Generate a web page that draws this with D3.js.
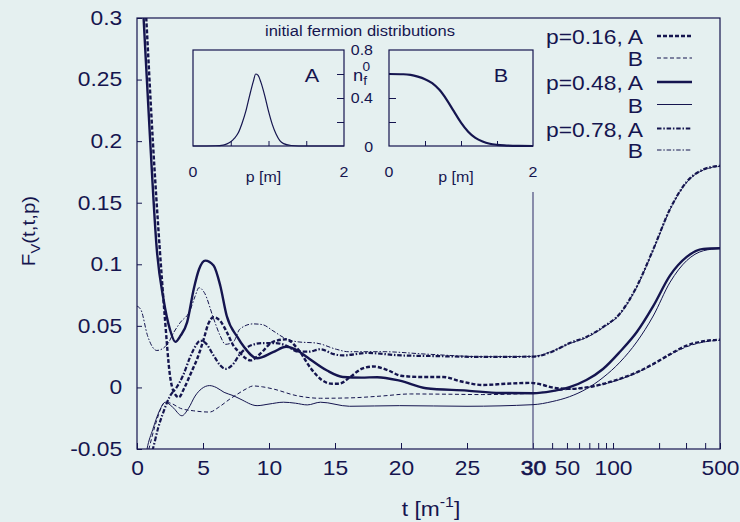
<!DOCTYPE html>
<html><head><meta charset="utf-8">
<script src="https://cdn.jsdelivr.net/npm/d3@7"></script>
<style>html,body{margin:0;padding:0;background:#e5f0f0;}svg{display:block;}</style>
</head><body><svg id="chart" width="740" height="522"></svg>
<script>
// ---------- data ----------
const linTicks = [0, 5, 10, 15, 20, 25, 30];
const logTicks = [40, 50, 60, 70, 80, 90, 100, 200, 300, 400, 500];
const logTickLabels = [50, 100, 500];
const yTicks = [-0.05, 0, 0.05, 0.1, 0.15, 0.2, 0.25, 0.3];
const yTickLabels = ["-0.05", "0", "0.05", "0.1", "0.15", "0.2", "0.25", "0.3"];

const legendLabels = ["p=0.16, A", "B", "p=0.48, A", "B", "p=0.78, A", "B"];

// p=0.16, distribution A  (thick dashed)
const p016A = [[0,0.5],[0.4,0.36],[0.7,0.30],[1.2,0.20],[1.72,0.113],[2.1,0.058],[2.5,0.0096],[2.8,-0.004],[3.16,-0.008],[3.6,0.0],[4.1,0.012],[4.55,0.023],[5.05,0.039],[5.4,0.0516],[5.8,0.057],[6.3,0.054],[6.8,0.045],[7.3,0.034],[7.8,0.028],[8.6,0.022],[9.3,0.027],[10.3,0.037],[11.3,0.039],[12.2,0.031],[13.2,0.015],[14.0,0.006],[14.8,0.003],[15.3,0.003],[16.1,0.008],[17.0,0.015],[17.9,0.017],[19,0.014],[20,0.0095],[21.5,0.0085],[23.2,0.0085],[24.5,0.005],[26.2,0.002],[28,0.003],[29.8,0.0037],[35,0.002],[40,0.0],[52,-0.0012],[67,0.0],[86,0.0028],[111,0.007],[143,0.0123],[183,0.019],[236,0.027],[303,0.034],[389,0.0375],[500,0.0388]];
// p=0.16, distribution B  (thin dashed)
const p016B = [[0,-0.15],[0.65,-0.06],[0.9,-0.05],[1.4,-0.03],[2.15,-0.012],[2.6,-0.013],[3.3,-0.017],[4.3,-0.019],[5.5,-0.020],[6.2,-0.016],[7.05,-0.0093],[7.6,-0.0055],[8.3,-0.001],[8.8,0.0012],[9.5,0.0005],[10.3,-0.0012],[12.1,-0.0067],[13.9,-0.0088],[16.1,-0.0085],[18.5,-0.007],[20.7,-0.0053],[23.5,-0.0055],[26.2,-0.0058],[30,-0.0047],[40,-0.003],[52,-0.0015],[67,0.0],[86,0.0025],[111,0.0065],[143,0.012],[183,0.0185],[236,0.0265],[303,0.033],[389,0.0368],[500,0.0383]];
// p=0.48, distribution A  (thick solid)
const p048A = [[0,0.42],[0.3,0.34],[0.5,0.30],[1.0,0.20],[1.5,0.112],[2.0,0.072],[2.5,0.047],[2.9,0.037],[3.3,0.042],[3.8,0.053],[4.3,0.08],[4.7,0.096],[5.17,0.103],[5.8,0.099],[6.3,0.083],[6.8,0.058],[7.6,0.041],[8.1,0.033],[9.1,0.0237],[10.3,0.0286],[11.3,0.033],[12.3,0.029],[12.9,0.0245],[14.4,0.0137],[15.6,0.0085],[17,0.008],[18.2,0.0083],[19.9,0.0055],[21.9,-0.0007],[25,-0.0026],[27.5,-0.0045],[30,-0.0047],[40,-0.003],[52,0.0002],[67,0.006],[86,0.015],[111,0.029],[143,0.045],[183,0.066],[236,0.091],[303,0.106],[389,0.1125],[500,0.113]];
// p=0.48, distribution B  (thin solid)
const p048B = [[0,-0.15],[0.6,-0.06],[0.76,-0.05],[1.2,-0.034],[1.7,-0.019],[2.15,-0.012],[2.7,-0.016],[3.4,-0.023],[3.9,-0.017],[4.4,-0.007],[4.9,-0.001],[5.5,0.0015],[6.0,0.0],[6.6,-0.004],[7.3,-0.0067],[7.8,-0.0093],[9.1,-0.0148],[10.0,-0.0135],[11.1,-0.012],[12.0,-0.0128],[12.9,-0.0142],[13.9,-0.012],[16.1,-0.0153],[19.9,-0.0148],[25,-0.0153],[30,-0.014],[40,-0.0115],[52,-0.0075],[67,-0.0012],[86,0.008],[111,0.0205],[143,0.037],[183,0.058],[236,0.0855],[303,0.103],[389,0.111],[500,0.1128]];
// p=0.78, distribution A  (thick dash-dot)
const p078A = [[0,-0.12],[0.9,-0.06],[1.2,-0.05],[1.6,-0.033],[2.0,-0.02],[2.5,-0.007],[3.0,0.0],[3.5,0.01],[4.0,0.024],[4.3,0.031],[4.8,0.038],[5.2,0.036],[5.8,0.026],[6.3,0.018],[6.7,0.015],[7.2,0.018],[7.8,0.027],[8.6,0.034],[9.5,0.036],[10.5,0.036],[11.3,0.034],[12.2,0.029],[13.0,0.029],[13.9,0.031],[14.9,0.027],[15.6,0.026],[17.4,0.028],[20,0.026],[22.4,0.0255],[26.2,0.0248],[30,0.025],[40,0.029],[52,0.036],[67,0.041],[86,0.049],[111,0.06],[143,0.082],[183,0.112],[236,0.145],[303,0.167],[389,0.177],[500,0.18]];
// p=0.78, distribution B  (thin dash-dot)
const p078B = [[0,0.066],[0.3,0.063],[0.8,0.042],[1.5,0.030],[2.3,0.035],[2.8,0.045],[3.3,0.053],[4.0,0.062],[4.4,0.074],[4.7,0.081],[5.1,0.077],[5.8,0.056],[6.3,0.042],[6.7,0.035],[7.3,0.037],[7.8,0.0475],[8.8,0.0516],[9.5,0.051],[10.3,0.046],[11.2,0.04],[12.2,0.037],[13.6,0.036],[15.1,0.031],[16,0.029],[18.6,0.029],[22,0.027],[26.2,0.025],[30,0.0252],[40,0.0295],[52,0.0355],[67,0.0405],[86,0.0485],[111,0.0595],[143,0.0815],[183,0.1115],[236,0.1445],[303,0.1665],[389,0.1765],[500,0.1795]];

// inset: initial fermion distributions n_f^0(p)
const insetA = [[0,0],[0.3,0.002],[0.4,0.008],[0.45,0.018],[0.5,0.035],[0.55,0.065],[0.6,0.11],[0.65,0.19],[0.7,0.29],[0.75,0.42],[0.8,0.54],[0.83,0.6],[0.86,0.59],[0.9,0.53],[0.95,0.42],[1.0,0.29],[1.05,0.18],[1.1,0.1],[1.15,0.045],[1.2,0.02],[1.3,0.004],[1.4,0],[2,0]];
const insetB = [[0,0.6],[0.2,0.598],[0.3,0.592],[0.4,0.578],[0.5,0.557],[0.6,0.524],[0.7,0.468],[0.8,0.387],[0.9,0.29],[1.0,0.195],[1.1,0.119],[1.2,0.067],[1.3,0.037],[1.4,0.019],[1.5,0.01],[1.6,0.005],[1.8,0.001],[2,0]];

// ---------- drawing ----------
const SX = 1.14;
const FONT = '"Liberation Sans", Arial, Helvetica, sans-serif';
const INK = '#15154f';
const svg = d3.select('#chart');
svg.append('rect').attr('width', 740).attr('height', 522).attr('fill', '#e5f0f0');

const L = 137, R = 720, T = 18, B = 449;
const xLin = d3.scaleLinear().domain([0, 30]).range([L, 533]);
const xLog = d3.scaleLog().domain([30, 500]).range([533, R]);
const xPos = t => t <= 30 ? xLin(t) : xLog(t);
const y = d3.scaleLinear().domain([-0.05, 0.3]).range([B, T]);

function stext(parent, x, yy, str, size, anchor) {
  const g = parent.append('g').attr('transform', `translate(${x},${yy}) scale(${SX},1)`);
  return g.append('text').attr('font-family', FONT).attr('font-size', size)
    .attr('fill', INK).attr('text-anchor', anchor || 'start').text(str);
}

function styleAxis(g, size) {
  g.select('.domain').remove();
  g.selectAll('line').attr('stroke', INK).attr('stroke-width', 1);
  g.selectAll('text').attr('font-family', FONT).attr('font-size', size).attr('fill', INK)
    .attr('transform', `scale(${SX},1)`);
}

// axes
const gx1 = svg.append('g').attr('transform', `translate(0,${B})`)
  .call(d3.axisBottom(xLin).tickValues(linTicks).tickSizeInner(-6).tickSizeOuter(0).tickPadding(12).tickFormat(d3.format('d')));
styleAxis(gx1, 20);
gx1.selectAll('text').filter(d => d === 30).attr('stroke', INK).attr('stroke-width', 0.6);
const gx2 = svg.append('g').attr('transform', `translate(0,${B})`)
  .call(d3.axisBottom(xLog).tickValues(logTicks).tickSizeInner(-6).tickSizeOuter(0).tickPadding(12)
    .tickFormat(d => logTickLabels.includes(d) ? String(d) : ''));
styleAxis(gx2, 20);

const gy = svg.append('g').attr('transform', `translate(${L},0)`)
  .call(d3.axisLeft(y).tickValues(yTicks).tickSizeInner(-5).tickSizeOuter(0).tickPadding(13)
    .tickFormat((d, i) => yTickLabels[i]));
styleAxis(gy, 20);

// frame
svg.append('rect').attr('x', L).attr('y', T).attr('width', R - L).attr('height', B - T)
  .attr('fill', 'none').attr('stroke', INK).attr('stroke-width', 1.2);
// separator line at t = 30
svg.append('line').attr('x1', xLin(30)).attr('x2', xLin(30)).attr('y1', 192).attr('y2', B)
  .attr('stroke', '#4a4a7c').attr('stroke-width', 1.2);

// axis titles
const xt = svg.append('g').attr('transform', `translate(431,516) scale(${SX},1)`)
  .append('text').attr('font-family', FONT).attr('font-size', 20).attr('fill', INK).attr('text-anchor', 'middle');
xt.append('tspan').text('t [m');
xt.append('tspan').attr('font-size', 14).attr('dy', -9).text('-1');
xt.append('tspan').attr('dy', 9).text(']');

const yt = svg.append('g').attr('transform', `translate(35,231) rotate(-90) scale(${SX},1)`)
  .append('text').attr('font-family', FONT).attr('font-size', 18).attr('fill', INK).attr('text-anchor', 'middle');
yt.append('tspan').text('F');
yt.append('tspan').attr('font-size', 13).attr('dy', 5).text('V');
yt.append('tspan').attr('dy', -5).text('(t,t,p)');

// curves
svg.append('clipPath').attr('id', 'plotclip').append('rect')
  .attr('x', L).attr('y', T).attr('width', R - L).attr('height', B - T);
const line = d3.line().x(d => xPos(d[0])).y(d => y(d[1])).curve(d3.curveMonotoneX);
const series = [
  {data: p016A, w: 2.4, dash: '4,2'},
  {data: p016B, w: 1, dash: '4,2.5'},
  {data: p048A, w: 2.4, dash: null},
  {data: p048B, w: 1, dash: null},
  {data: p078A, w: 2.2, dash: '4.5,1.8,1.5,1.8'},
  {data: p078B, w: 1, dash: '4.5,1.8,1.5,1.8'}
];
const cg = svg.append('g').attr('clip-path', 'url(#plotclip)');
series.forEach(s => {
  cg.append('path').attr('d', line(s.data)).attr('fill', 'none').attr('stroke', INK)
    .attr('stroke-width', s.w).attr('stroke-dasharray', s.dash);
});

// legend
const legRows = [44, 66, 90, 112.5, 136.5, 158];
legendLabels.forEach((lab, i) => {
  stext(svg, 643, legRows[i], lab, 20, 'end');
  const s = series[i];
  svg.append('line').attr('x1', 657).attr('x2', 692).attr('y1', legRows[i] - 8).attr('y2', legRows[i] - 8)
    .attr('stroke', INK).attr('stroke-width', s.w).attr('stroke-dasharray', s.dash);
});

// insets
stext(svg, 360, 36, 'initial fermion distributions', 14.5, 'middle');
const iy = d3.scaleLinear().domain([0, 0.8]).range([146, 50]);
const insets = [
  {data: insetA, x0: 193, x1: 344, w: 1.2, label: 'A', tickSide: 'right'},
  {data: insetB, x0: 389, x1: 533, w: 2.2, label: 'B', tickSide: 'left'}
];
insets.forEach(ins => {
  const ix = d3.scaleLinear().domain([0, 2]).range([ins.x0, ins.x1]);
  const g = svg.append('g');
  const gb = g.append('g').attr('transform', 'translate(0,146)')
    .call(d3.axisBottom(ix).tickValues([0.5, 1, 1.5]).tickSizeInner(-5).tickSizeOuter(0).tickFormat(''));
  gb.select('.domain').remove();
  gb.selectAll('line').attr('stroke', INK);
  const side = ins.tickSide === 'right' ? d3.axisRight(iy) : d3.axisLeft(iy);
  const gs = g.append('g').attr('transform', `translate(${ins.tickSide === 'right' ? ins.x1 : ins.x0},0)`)
    .call(side.tickValues([0.2, 0.4, 0.6]).tickSizeInner(-7).tickSizeOuter(0).tickFormat(''));
  gs.select('.domain').remove();
  gs.selectAll('line').attr('stroke', INK);
  g.append('rect').attr('x', ins.x0).attr('y', 50).attr('width', ins.x1 - ins.x0).attr('height', 96)
    .attr('fill', 'none').attr('stroke', INK).attr('stroke-width', 1.2);
  const il = d3.line().x(d => ix(d[0])).y(d => iy(d[1])).curve(d3.curveMonotoneX);
  g.append('path').attr('d', il(ins.data)).attr('fill', 'none').attr('stroke', INK).attr('stroke-width', ins.w);
  stext(g, ins.x1 - 32, 82, ins.label, 19, 'middle');
  stext(g, ix(0), 177, '0', 14, 'middle');
  stext(g, ix(2), 177, '2', 14, 'middle');
  stext(g, ix(1) - 5, 182, 'p [m]', 14, 'middle');
});
stext(svg, 373, 55, '0.8', 14, 'end');
stext(svg, 373, 103, '0.4', 14, 'end');
stext(svg, 373, 152, '0', 14, 'end');
const nf = svg.append('g').attr('transform', `translate(353,81) scale(${SX},1)`)
  .append('text').attr('font-family', FONT).attr('font-size', 16).attr('fill', INK);
nf.append('tspan').text('n');
nf.append('tspan').attr('font-size', 12).attr('dy', 4).text('f');
nf.append('tspan').attr('font-size', 12).attr('dx', -4).attr('dy', -14).text('0');
</script></body></html>
